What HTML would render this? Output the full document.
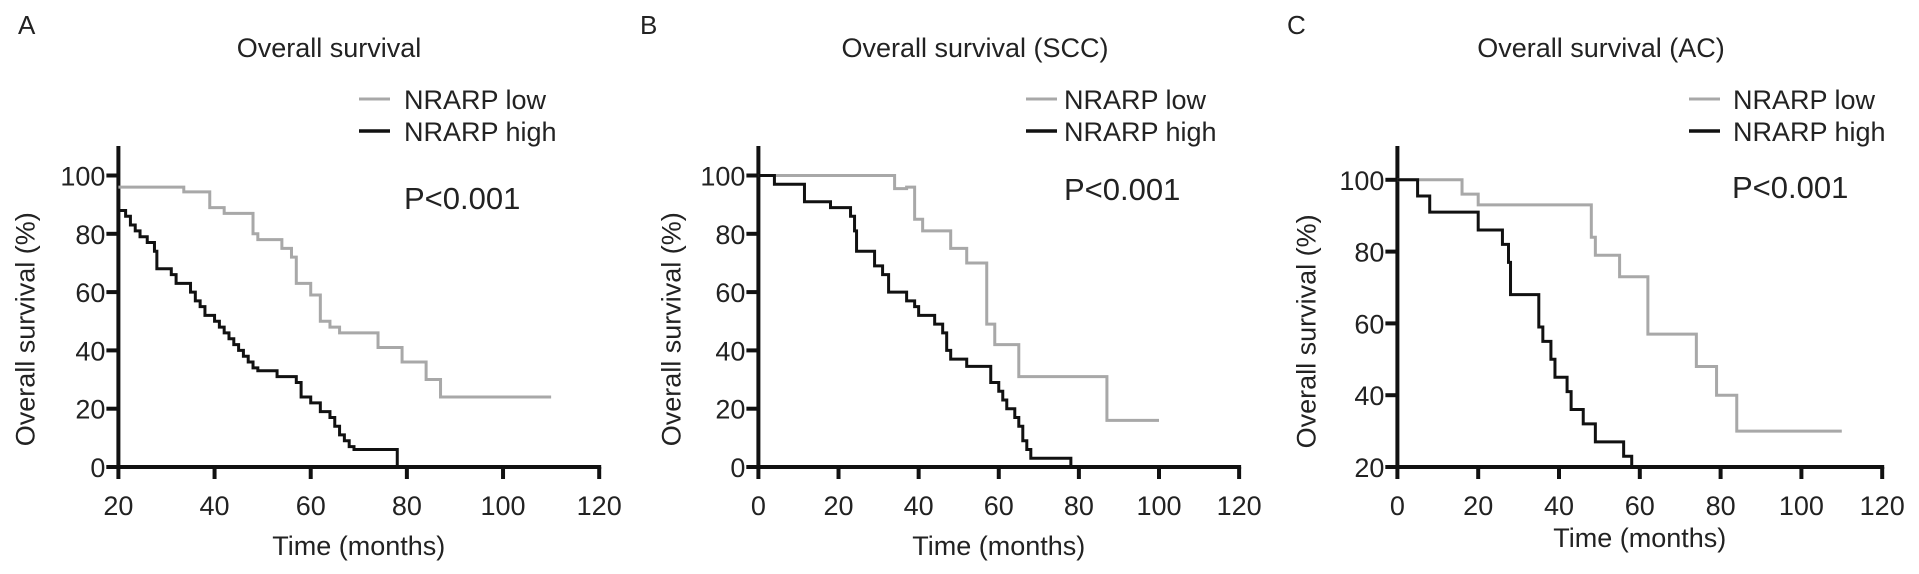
<!DOCTYPE html>
<html><head><meta charset="utf-8"><style>
html,body{margin:0;padding:0;background:#fff;}
svg{display:block;font-family:"Liberation Sans",Arial,sans-serif;}
</style></head><body>
<svg id="chart" width="1919" height="574" viewBox="0 0 1919 574" xmlns="http://www.w3.org/2000/svg"></svg>
<script>
// Panel A data
const aTicksX = [20,40,60,80,100,120];
const aTicksY = [0,20,40,60,80,100];
const aLowT = [20,33.6,37,39,42,48,49,54,56,57,60,62,64,66,74,79,84,87,110];
const aLowS = [96,94.4,94.4,89,87,80,78,75,72,63,59,50,48,46,41,36,30,24,24];
const aHighT = [20,21.5,22.5,23.5,24.5,26,27.5,28,31,32,35,36,37,38,40,41,42,43,44,45,46,47,48,49,53,57,58,60,62,64,65,66,67,68,69,78];
const aHighS = [88,86,83,81,79,77,74,68,66,63,60,57,55,52,50,48,46,44,42,40,38,36,34,33,31,29,24,22,19,17,14,11,9,7,6,0];
// Panel B data
const bTicksX = [0,20,40,60,80,100,120];
const bTicksY = [0,20,40,60,80,100];
const bLowT = [0,34,37,39,41,48,52,57,59,65,87,100];
const bLowS = [100,95.5,96,85,81,75,70,49,42,31,16,16];
const bHighT = [0,4,11.5,18,23,24,24.5,29,31,32.5,37,39,40,44,46,47,48,52,58,60,61,62,64,65,66,67,68,78];
const bHighS = [100,97,91,89,86,81,74,69,66,60,57,55,52,49,46,40,37,34.5,29,26,23,20,17,14,9,6,3,0];
// Panel C data
const cTicksX = [0,20,40,60,80,100,120];
const cTicksY = [20,40,60,80,100];
const cLowT = [0,16,20,48,49,55,62,74,79,84,110];
const cLowS = [100,96,93,84,79,73,57,48,40,30,30];
const cHighT = [0,5,8,20,26,27.5,28,35,36,38,39,42,43,46,49,56,58];
const cHighS = [100,95.5,91,86,82,77,68,59,55,50,45,41,36,32,27,23,20];

const NS='http://www.w3.org/2000/svg';
const svg=document.getElementById('chart');
function mk(tag,attrs,parent){const e=document.createElementNS(NS,tag);for(const k in attrs)e.setAttribute(k,attrs[k]);(parent||svg).appendChild(e);return e;}
function txt(s,attrs,parent){const e=mk('text',attrs,parent);e.textContent=s;return e;}
const FS=27;

const panels=[
 {id:'a',letter:'A',lx:18,title:'Overall survival',tx:329,x0:118.4,pxPerX:4.808,xmin:20,y0:467,pxPerY:2.915,ymin:0,ylab:24.5,tickX:aTicksX,tickY:aTicksY,low:[aLowT,aLowS],high:[aHighT,aHighS],legLine:359,legText:404,pX:404,pY:209,xlabY:555},
 {id:'b',letter:'B',lx:640,title:'Overall survival (SCC)',tx:975,x0:758.4,pxPerX:4.006,xmin:0,y0:467,pxPerY:2.915,ymin:0,ylab:670.6,tickX:bTicksX,tickY:bTicksY,low:[bLowT,bLowS],high:[bHighT,bHighS],legLine:1026,legText:1064,pX:1064,pY:200,xlabY:555},
 {id:'c',letter:'C',lx:1287,title:'Overall survival (AC)',tx:1601,x0:1397.4,pxPerX:4.04,xmin:0,y0:467,pxPerY:3.59,ymin:20,ylab:1305.5,tickX:cTicksX,tickY:cTicksY,low:[cLowT,cLowS],high:[cHighT,cHighS],legLine:1689,legText:1733,pX:1732,pY:198,xlabY:547}
];

panels.forEach(p=>{
 const g=mk('g',{});
 
 
 const X=v=>p.x0+(v-p.xmin)*p.pxPerX;
 const Y=v=>p.y0-(v-p.ymin)*p.pxPerY;
 const xEnd=X(p.tickX[p.tickX.length-1]);
 let t=txt(p.letter,{x:p.lx,y:34,'font-size':26,fill:'#222'},g);
 
 
 t=txt(p.title,{x:p.tx,y:57,'font-size':FS,fill:'#222','text-anchor':'middle'},g);
 
 
 let ax=mk('line',{x1:p.x0,y1:146,x2:p.x0,y2:p.y0+2,stroke:'#111','stroke-width':4},g);
 
 
 ax=mk('line',{x1:p.x0-12,y1:p.y0,x2:xEnd+2,y2:p.y0,stroke:'#111','stroke-width':4},g);
 
 
 p.tickY.forEach(v=>{
  const y=Y(v);
  const tk=mk('line',{x1:p.x0-12,y1:y,x2:p.x0,y2:y,stroke:'#111','stroke-width':4},g);
  
  
  const lb=txt(String(v),{x:p.x0-13,y:y+10,'font-size':FS,fill:'#222','text-anchor':'end'},g);
  
  
 });
 p.tickX.forEach(v=>{
  const x=X(v);
  const tk=mk('line',{x1:x,y1:p.y0,x2:x,y2:p.y0+12,stroke:'#111','stroke-width':4},g);
  
  
  const lb=txt(String(v),{x:x,y:p.y0+48,'font-size':FS,fill:'#222','text-anchor':'middle'},g);
  
  
 });
 t=txt('Time (months)',{x:(p.x0+xEnd)/2,y:p.xlabY,'font-size':FS,fill:'#222','text-anchor':'middle'},g);
 
 
 const ycen=(Y(p.tickY[0])+Y(p.tickY[p.tickY.length-1]))/2+8;
 t=txt('Overall survival (%)',{x:p.ylab,y:ycen,'font-size':FS,fill:'#222','text-anchor':'middle',transform:'rotate(-90 '+(p.ylab)+' '+ycen+') translate(0 10)'},g);
 
 
 function step(T,S,color,name){
  let d='M'+X(T[0])+','+Y(S[0]);
  for(let i=1;i<T.length;i++){d+=' H'+X(T[i])+' V'+Y(S[i]);}
  const path=mk('path',{d:d,fill:'none',stroke:color,'stroke-width':3},g);
  
  
 }
 step(p.low[0],p.low[1],'#a8a8a8','curve-nrarp-low');
 step(p.high[0],p.high[1],'#111','curve-nrarp-high');
 let l=mk('line',{x1:p.legLine,y1:99,x2:p.legLine+31,y2:99,stroke:'#a8a8a8','stroke-width':3},g);
 
 
 t=txt('NRARP low',{x:p.legText,y:109,'font-size':FS,fill:'#222'},g);
 
 
 l=mk('line',{x1:p.legLine,y1:131,x2:p.legLine+31,y2:131,stroke:'#111','stroke-width':3.5},g);
 
 
 t=txt('NRARP high',{x:p.legText,y:141,'font-size':FS,fill:'#222'},g);
 
 
 t=txt('P<0.001',{x:p.pX,y:p.pY,'font-size':31,fill:'#222'},g);
 
 
});
</script>
</body></html>
